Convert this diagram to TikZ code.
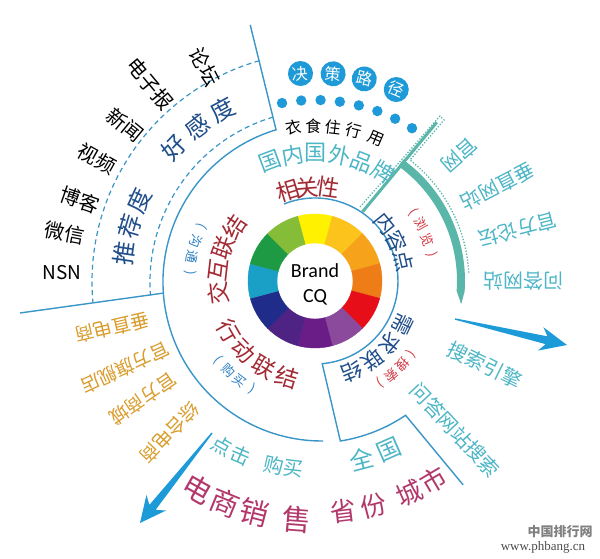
\documentclass[tikz,border=0pt]{standalone}
\usepackage{fontspec}
\setmainfont{Noto Sans CJK SC}
\newfontfamily\brandfont{Carlito}
\newfontfamily\wmserif{Liberation Serif}
\usetikzlibrary{calc}
\definecolor{linecol}{HTML}{3A96C8}
\definecolor{darkred}{HTML}{A32A33}
\definecolor{navy}{HTML}{1F4E8A}
\definecolor{tealtxt}{HTML}{4DB6C6}
\definecolor{orangetxt}{HTML}{D99C2B}
\definecolor{magtxt}{HTML}{B2386B}
\definecolor{redsmall}{HTML}{D2353F}
\definecolor{bluesmall}{HTML}{2D7FC0}
\definecolor{dotblue}{HTML}{1E9AD8}
\definecolor{tealarc}{HTML}{5BB6AA}
\definecolor{arrowblue}{HTML}{1D9BD8}
\definecolor{cY}{HTML}{FFF100}
\definecolor{cYO}{HTML}{FBC31C}
\definecolor{cO}{HTML}{F6A31B}
\definecolor{cDO}{HTML}{EE7D18}
\definecolor{cR}{HTML}{E50E19}
\definecolor{cLP}{HTML}{8B4A9C}
\definecolor{cP}{HTML}{6A1D87}
\definecolor{cDP}{HTML}{4E2384}
\definecolor{cN}{HTML}{1F2C8A}
\definecolor{cC}{HTML}{1A9FC6}
\definecolor{cG}{HTML}{1E9A44}
\definecolor{cYG}{HTML}{86BD38}
\newcommand{\arcch}[5]{%
  \foreach \ang/\ch [count=\i] in {#5} {%
    \node[#2, rotate=\ang#4] (#1\i) at ($(C)+(\ang:#3)$) {\ch};}}
\newcommand{\tarrow}[8]{% tail, tip, headlen, notchlen, headhalf, shafthalf, color, prefix
  \coordinate (#8hb) at ($(#2)!#3!(#1)$);
  \coordinate (#8hn) at ($(#2)!#4!(#1)$);
  \fill[#7] ($(#1)!0.7pt!90:(#2)$) -- ($(#8hn)!#6!90:(#2)$) -- ($(#8hb)!#5!90:(#2)$) -- (#2)
    -- ($(#8hb)!#5!-90:(#2)$) -- ($(#8hn)!#6!-90:(#2)$) -- ($(#1)!0.7pt!-90:(#2)$) -- cycle;}
\tikzset{
  blueline/.style={draw=linecol, line width=1.4},
  dashline/.style={draw=linecol, line width=1.2, dash pattern=on 5pt off 3.5pt},
  ch/.style={inner sep=0pt, font=\fontsize{#1}{#1}\selectfont},
}
\begin{document}
\begin{tikzpicture}[x=1pt,y=1pt]
\fill[white] (0,0) rectangle (600,558);
\useasboundingbox (0,0) rectangle (600,558);
\coordinate (C) at (315,277);
\coordinate (C2) at (322,276);

% colour wheel
\foreach \a/\col in {90/cY,60/cYO,30/cO,0/cDO,-30/cR,-60/cLP,-90/cP,-120/cDP,-150/cN,180/cC,150/cG,120/cYG} {
  \filldraw[fill=\col, draw=\col, line width=0.4]
    ($(C)+(\a-15:67)$) arc[start angle=\a-15, end angle=\a+15, radius=67]
    -- ($(C)+(\a+15:38)$) arc[start angle=\a+15, end angle=\a-15, radius=38] -- cycle;}
\node[font=\brandfont\fontsize{20}{20}\selectfont, anchor=base, inner sep=0pt] (brand) at ($(C)+(0,3)$) {Brand};
\node[font=\brandfont\fontsize{20}{20}\selectfont, anchor=base, inner sep=0pt] (cq) at ($(C)+(0,-21)$) {CQ};

% blue structure lines
\coordinate (topout) at ($(C2)+(105.6:267)$);
\coordinate (topin) at ($(C2)+(106.8:159)$);
\draw[blueline] (topout) -- (topin) arc[start angle=106.8, end angle=270.4, radius=159];
\coordinate (lin) at ($(C2)+(184:159)$);
\coordinate (lout) at (20,245);
\draw[blueline] (lin) -- (lout);
\draw[dashline] ($(C2)+(106.5:172)$) arc[start angle=106.5, end angle=184.5, radius=172];
\draw[dashline] ($(C2)+(105.8:230)$) arc[start angle=105.8, end angle=185, radius=230];
\draw[blueline] ($(C)+(112:83)$) arc[start angle=112, end angle=-85, radius=83]
  -- ($(C)+(-81:162)$) arc[start angle=-81, end angle=-56, radius=162] -- ($(C)+(-54:252)$);

% teal structure
\fill[tealarc] ($(C)+(54:150)$) arc[start angle=54, end angle=-4, radius=150]
  -- ($(C)+(-9:148)$) -- ($(C)+(-4:142)$) arc[start angle=-4, end angle=54, radius=142] -- cycle;
\draw[tealarc, line width=3] ($(C)+(55.5:84)$) -- ($(C)+(52.5:200)$);
\draw[tealarc, line width=1.3, dash pattern=on 1.3pt off 1.7pt] (360,351) -- (440,442) -- (444,438) -- (410,398)
  arc[start angle=51.9, end angle=3, radius=154];

% decision path
\foreach \k in {0,...,7} {\pgfmathsetmacro\dang{100.5-\k*6.13}
  \fill[dotblue] ($(C)+(\dang:181)$) circle (5.2);}
\foreach \ang/\ch [count=\i] in {94/决,85/策,76.3/路,67/径} {
  \node[circle, fill=dotblue, minimum size=25pt, inner sep=0pt, text=white,
        font=\fontsize{16}{16}\selectfont, rotate=\ang-90] (dp\i) at ($(C)+(\ang:208)$) {\ch};}

% inner ring texts
\arcch{xg}{ch=23, text=darkred}{94}{-90}{107/相,95/关,82/性}
\arcch{gn}{ch=22, text=tealtxt}{128}{-90}{110.4/国,100/内,89.6/国,78.9/外,68.4/品,58/牌}
\arcch{ys}{ch=16, text=black}{155}{-90}{98/衣,90.6/食,83.2/住,75.4/行,67/用}
\arcch{nr}{ch=21, text=navy}{91}{-90}{39/内,26/容,13/点}
\arcch{ll}{ch=13, text=redsmall}{120}{-90}{35/(,28.5/浏,20/览,12.5/)}
\arcch{xq}{ch=21, text=navy}{98}{-90}{-26/需,-40/求,-54/联,-68/结}
\arcch{ss}{ch=13, text=redsmall}{121}{-90}{-37/(,-43.5/搜,-51/索,-57.5/)}
\arcch{jh}{ch=23, text=darkred}{97}{-90}{187/交,173.5/互,160/联,146.5/结}
\arcch{gt}{ch=13, text=bluesmall}{125}{+90}{154/(,161.5/沟,169/通,176.5/)}
\arcch{xd}{ch=23, text=darkred}{100}{+90}{210/行,224.5/动,239/联,253.5/结}
\arcch{gm}{ch=13, text=bluesmall}{125}{+90}{219/(,226/购,233/买,240/)}

% upper left
\arcch{hg}{ch=24, text=navy}{194}{-90}{136.7/好,127.5/感,118.3/度}
\arcch{tj}{ch=24, text=navy}{193}{-90}{171.7/推,163.5/荐,155.3/度}
\foreach \th/\r/\t [count=\i] in {169.1/254.6/微信,161/248.6/博客,150.8/249.8/视频,140.6/245.8/新闻,129.9/257/电子报,117.2/241/论坛} {
  \node[ch=20, text=black, rotate=\th+180] (ol\i) at ($(C)+(\th:\r)$) {\t};}
\node[ch=19, text=black] (nsn) at (62,285) {NSN};

% right side
\foreach \th/\r/\t [count=\i] in {41/192/官网,27.4/206/垂直网站,14.1/209/官方论坛,0/208/问答网站} {
  \node[ch=20, text=tealtxt, rotate=\th+180] (rt\i) at ($(C)+(\th:\r)$) {\t};}
\foreach \th/\r/\t [count=\i] in {-26.3/189.6/搜索引擎,-46.8/204.5/问答网站搜索} {
  \node[ch=20, text=tealtxt, rotate=\th] (rs\i) at ($(C)+(\th:\r)$) {\t};}

% lower left
\foreach \th/\r/\t [count=\i] in {193/208/垂直电商,204.6/209/官方旗舰店,214.5/208.6/官方商城,226.3/210/综合电商} {
  \node[ch=19, text=orangetxt, rotate=\th] (ll\i) at ($(C)+(\th:\r)$) {\t};}

% bottom
\arcch{dj}{ch=20, text=tealtxt}{189}{+90}{240.4/点,247/击,257.3/购,263.4/买}
\arcch{qg}{ch=24, text=tealtxt}{184}{+90}{284.7/全,293.6/国}
\arcch{ds}{ch=29, text=magtxt}{239}{+90}{240.5/电,247.8/商,255.4/销,265.6/售}
\arcch{sf}{ch=26, text=magtxt}{232}{+90}{276.9/省,284.6/份,294.1/城,300.6/市}

% arrows
\coordinate (ra1) at (455,239);
\coordinate (ra2) at (567,213);
\tarrow{ra1}{ra2}{27pt}{21pt}{12pt}{4pt}{arrowblue}{rA}
\coordinate (la1) at (212,125);
\coordinate (la2) at (140,35);
\tarrow{la1}{la2}{26pt}{20pt}{12.5pt}{4pt}{arrowblue}{lA}

% watermark
\node[font=\bfseries\fontsize{13}{13}\selectfont, text=gray, inner sep=0pt] (wm1) at (560,26) {中国排行网};
\node[font=\wmserif\fontsize{13}{13}\selectfont, text=black!70, inner sep=0pt] (wm2) at (543,11) {www.phbang.cn};
\end{tikzpicture}
\end{document}
